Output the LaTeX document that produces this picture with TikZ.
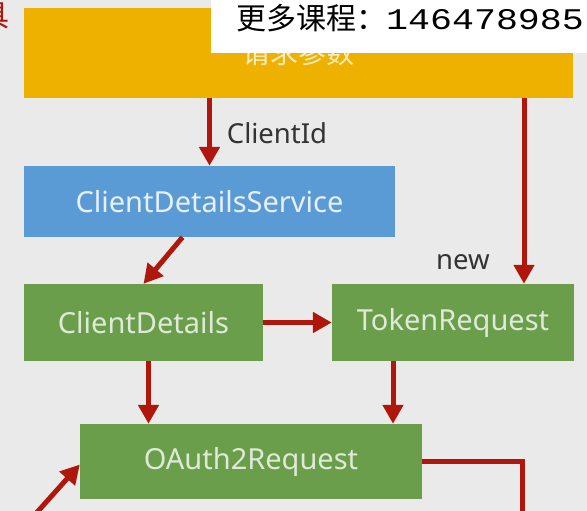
\documentclass[tikz,border=0pt]{standalone}
\usepackage{fontspec}
\usepackage{graphicx}
\setmainfont{Noto Sans}
\newfontfamily\cjk{Noto Sans CJK SC}
\newfontfamily\numfont{Liberation Mono}
\usetikzlibrary{arrows.meta}
\definecolor{bggray}{HTML}{EAEAEA}
\definecolor{boxyellow}{HTML}{EFB100}
\definecolor{boxblue}{HTML}{5B9BD5}
\definecolor{boxgreen}{HTML}{6B9E4B}
\definecolor{arrowred}{HTML}{B0170C}
\definecolor{tagtext}{HTML}{333333}
\begin{document}
\begin{tikzpicture}[x=1pt,y=-1pt,
	box/.style={inner sep=0pt,font=\fontsize{29}{34}\selectfont},
	yellowbox/.style={box,fill=boxyellow,text=white!75!boxyellow},
	bluebox/.style={box,fill=boxblue,text=white!85!boxblue},
	greenbox/.style={box,fill=boxgreen,text=white!78!boxgreen},
	flow/.style={draw=arrowred,line width=5pt,-{Triangle[length=19pt,width=20pt]}},
	flowline/.style={draw=arrowred,line width=5pt},
	tag/.style={text=tagtext,inner sep=0pt,font=\fontsize{27.5}{32}\selectfont}]
	\useasboundingbox (0,0) rectangle (587,511);
	\fill[bggray] (0,0) rectangle (587,511);
	\node[text=arrowred,inner sep=0pt] (side) at (-5,16) {\cjk\fontsize{30}{30}\selectfont 具};
	\node[yellowbox,minimum width=549pt,minimum height=90pt] (params) at (298.5,53) {\cjk\fontsize{28}{30}\selectfont 请求参数};
	\fill[white] (211,0) rectangle (587,53);
	\node[anchor=west,inner sep=0pt] (promo) at (236,18) {\cjk\fontsize{30}{30}\selectfont 更多课程：\numfont\scalebox{1.22}[1]{146478985}};
	\node[bluebox,minimum width=371pt,minimum height=71pt] (service) at (209.5,201.5) {ClientDetailsService};
	\node[greenbox,minimum width=239pt,minimum height=77pt] (details) at (143.5,322.5) {ClientDetails};
	\node[greenbox,minimum width=242pt,minimum height=77pt] (token) at (453,322.5) {TokenRequest};
	\node[greenbox,minimum width=342pt,minimum height=75pt] (oauth) at (251,461.5) {OAuth2Request};
	\node[tag] (clientid) at (277,133) {ClientId};
	\node[tag] (new) at (463,262) {new};
	\coordinate (outend) at (522,540);
	\coordinate (inbeg) at (14,538);
	\draw[flow] (service.north |- params.south) -- (service.north);
	\draw[flow] ([xshift=71pt]token.north |- params.south) -- ([xshift=71pt]token.north);
	\draw[flow] ([xshift=-27pt]service.south) -- (details.north);
	\draw[flow] (details.east) -- (token.west);
	\draw[flow] ([xshift=5pt]details.south) -- ([xshift=5pt]details.south |- oauth.north);
	\draw[flow] ([xshift=-60pt]token.south) -- ([xshift=-60pt]token.south |- oauth.north);
	\draw[flowline] (oauth.east) -| (outend);
	\draw[flow] (inbeg) -- ([yshift=-3pt]oauth.west);
\end{tikzpicture}
\end{document}
